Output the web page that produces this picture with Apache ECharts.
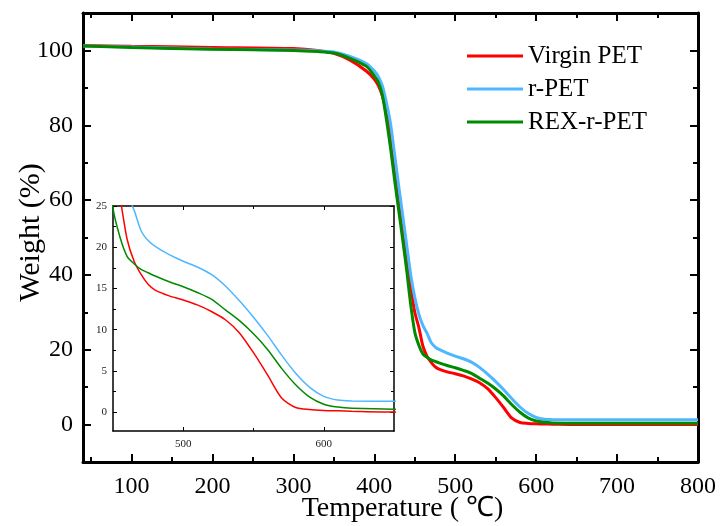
<!DOCTYPE html>
<html><head><meta charset="utf-8">
<script src="https://cdn.jsdelivr.net/npm/echarts@6/dist/echarts.min.js"></script>
<style>html,body{margin:0;padding:0;background:#fff}#c{width:720px;height:526px}</style>
</head><body><div id="c"></div>
<script>
// ---- data ----
const temps     = [40,100,200,300,330,350,370,390,400,405,410,415,420,425,430,435,440,445,450,455,460,465,470,475,480,490,500,510,520,530,540,550,560,570,580,590,600,610,620,650,700,800];
const virginPET = [101.3,101.1,100.8,100.5,100.0,99.2,97.4,94.5,92.3,90.6,87.8,83.3,77,69,61,53,44.5,37,30,26,21,18.3,16.7,15.5,14.8,14.1,13.6,13.0,12.2,11.2,9.6,7.2,4.5,1.7,0.55,0.3,0.2,0.15,0.1,0.0,0.0,0.0];
const rPET      = [101.2,100.9,100.4,100.1,99.9,99.6,98.4,96.5,94.5,93.0,90.5,86,80.5,72.3,64,56,48,40,34,29.5,26.5,24.5,22.0,20.8,20.1,19.1,18.3,17.6,16.7,15.3,13.5,11.5,9.3,6.9,4.7,3.0,1.9,1.45,1.35,1.3,1.3,1.3];
const rexPET    = [101.2,100.8,100.3,100.0,99.7,99.3,97.9,95.8,93.2,91.5,88,81.5,74,65.5,57.5,49.5,41.2,32,24.7,21.2,18.9,18.0,17.3,16.9,16.5,15.8,15.2,14.5,13.7,12.4,11.1,9.5,7.6,5.3,3.3,1.8,0.95,0.6,0.45,0.35,0.35,0.35];
const seriesNames = ['Virgin PET','r-PET','REX-r-PET'];
const seriesColors = ['#ff0000','#4db8ff','#008a00'];
const xMajor = [100,200,300,400,500,600,700,800];
const xMinor = [50,150,250,350,450,550,650,750];
const yMajor = [0,20,40,60,80,100];
const yMinor = [-10,10,30,50,70,90];
const insetXMajor = [500,600];
const insetXMinor = [550];
const insetYMajor = [0,5,10,15,20,25];
const insetYMinor = [2.5,7.5,12.5,17.5,22.5];

const FONT = 'Liberation Serif';
const pairs = arr => temps.map((t,i)=>[t,arr[i]]);
const allData = [virginPET, rPET, rexPET];

function ax(o){
  const a = {
    type:'value', gridIndex:o.grid, min:o.min, max:o.max, position:o.pos,
    splitLine:{show:false},
    axisLine:{show:!!o.line, onZero:false, lineStyle:{color:'#000', width:o.lineW||1}},
    axisTick:{show:true, inside:true, length:o.len, lineStyle:{color:'#000', width:o.tw||1.5}, customValues:o.ticks},
    axisLabel:{show:!!o.labels, customValues:o.ticks, color:o.lc||'#000', fontFamily:FONT, fontSize:o.fs||20, margin:o.margin||8},
  };
  if(o.name){
    a.name=o.name; a.nameLocation='middle'; a.nameGap=o.nameGap; a.nameMoveOverlap=false;
    a.nameTextStyle={fontFamily:FONT,fontSize:o.nfs||28,color:'#000',padding:o.namePad||0};
  }
  return a;
}

const xAxis = [
  ax({grid:0,min:40,max:800,pos:'bottom',ticks:xMajor,len:8,line:true,lineW:3,labels:true,fs:24,margin:13,tw:2,name:'Temperature ( ℃)',nameGap:33,nfs:28,namePad:[0,0,0,24]}),
  ax({grid:0,min:40,max:800,pos:'bottom',ticks:xMinor,len:5,tw:2}),
  ax({grid:0,min:40,max:800,pos:'top',ticks:xMajor,len:8,line:true,lineW:3,tw:2}),
  ax({grid:0,min:40,max:800,pos:'top',ticks:xMinor,len:5,tw:2}),
  ax({grid:1,min:450,max:650,pos:'bottom',ticks:insetXMajor,len:4,line:true,lineW:1.5,labels:true,fs:11,lc:'#222',margin:8,tw:1}),
  ax({grid:1,min:450,max:650,pos:'bottom',ticks:insetXMinor,len:3,tw:1}),
  ax({grid:1,min:450,max:650,pos:'top',ticks:insetXMajor,len:4,line:true,lineW:1.5,tw:1}),
  ax({grid:1,min:450,max:650,pos:'top',ticks:insetXMinor,len:3,tw:1}),
];
const yAxis = [
  ax({grid:0,min:-10,max:110,pos:'left',ticks:yMajor,len:8,line:true,lineW:3,labels:true,fs:24,margin:10,tw:2,name:'Weight (%)',nameGap:37,nfs:30,namePad:[0,0,0,10]}),
  ax({grid:0,min:-10,max:110,pos:'left',ticks:yMinor,len:5,tw:2}),
  ax({grid:0,min:-10,max:110,pos:'right',ticks:yMajor,len:8,line:true,lineW:3,tw:2}),
  ax({grid:0,min:-10,max:110,pos:'right',ticks:yMinor,len:5,tw:2}),
  ax({grid:1,min:-2.3,max:25,pos:'left',ticks:insetYMajor,len:4,line:true,lineW:1.5,labels:true,fs:11,lc:'#222',margin:6,tw:1}),
  ax({grid:1,min:-2.3,max:25,pos:'left',ticks:insetYMinor,len:3,tw:1}),
  ax({grid:1,min:-2.3,max:25,pos:'right',ticks:insetYMajor,len:4,line:true,lineW:1.5,tw:1}),
  ax({grid:1,min:-2.3,max:25,pos:'right',ticks:insetYMinor,len:3,tw:1}),
];

const series = [];
seriesNames.forEach((n,i)=>{
  series.push({type:'line',name:n,xAxisIndex:0,yAxisIndex:0,data:pairs(allData[i]),showSymbol:false,smooth:0.25,
    color:seriesColors[i],lineStyle:{width:3,color:seriesColors[i]},z:2+i});
  series.push({type:'line',name:n,xAxisIndex:4,yAxisIndex:4,data:pairs(allData[i]),showSymbol:false,smooth:0.25,clip:true,
    color:seriesColors[i],lineStyle:{width:1.5,color:seriesColors[i]},z:10+i});
});

const chart = echarts.init(document.getElementById('c'),null,{renderer:'canvas'});
chart.setOption({
  animation:false,
  backgroundColor:'#fff',
  grid:[
    {left:83,right:22,top:13,bottom:64,containLabel:false,outerBoundsMode:'none'},
    {left:113,width:281,top:206,height:225,containLabel:false,outerBoundsMode:'none',show:true,backgroundColor:'#fff',borderWidth:0}
  ],
  legend:{
    data:seriesNames, orient:'vertical', left:467, top:43, padding:0, itemWidth:56, itemHeight:3, itemGap:7, icon:'rect',
    textStyle:{fontFamily:FONT,fontSize:25,color:'#000',lineHeight:26}
  },
  xAxis, yAxis, series
});
</script></body></html>
